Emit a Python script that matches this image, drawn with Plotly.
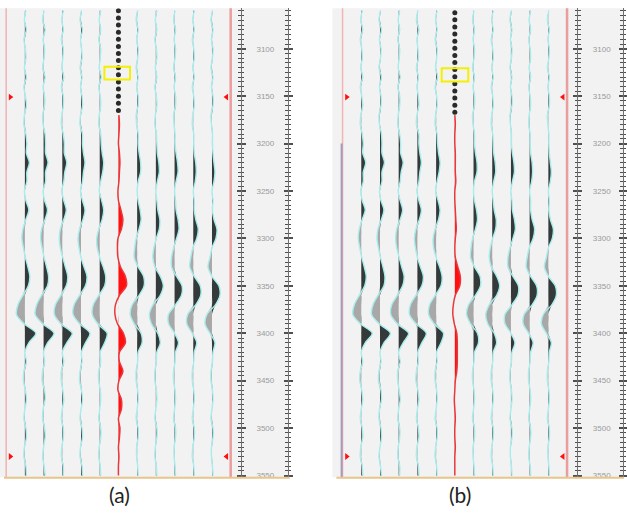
import plotly.graph_objects as go

# ---------------- data ----------------
depth = list(range(3060, 3551, 10))          # sample depths of ordinary traces
red_depth = list(range(3170, 3551, 10))      # sample depths of the highlighted trace
dot_depth_a = [3060, 3067.5, 3075, 3082.5, 3090, 3097.5, 3105, 3112.5, 3120, 3127.5,
               3135, 3142.5, 3150, 3157.5, 3165]
dot_depth_b = [3062, 3069.5, 3077, 3084.5, 3092, 3099.5, 3107, 3114.5, 3122, 3129.5,
               3137, 3144.5, 3152, 3159.5, 3167]
depth_ticks = [3100, 3150, 3200, 3250, 3300, 3350, 3400, 3450, 3500, 3550]
panel_labels = ["(a)", "(b)"]
marker_depths = [3151, 3530]
box_a = [3119, 3132.5]
box_b = [3120.5, 3134.5]

T1 = [1, -0.5, 1.5, -1, 0.5, 1, -0.5, 1.5, -1, 0.5, 1.5, -0.5, -1, 1,
      2, 1.5, 4.5, 2, 2, -0.5, 1, 4, 1, -2, -3, -1.5, 0.5, 3, 5, 3.5, -2, -7, -8.5, -1, 11, 4, 0,
      1.5, -1, -1.5, 0.5, 1.5, 0, -1, 1, 1.5, -0.5, -1, 1, 1.5]
T2 = [0.5, -1, 1.5, -0.5, 1, 0.5, -1, 1.5, -0.5, 1, 1, -1, -0.5, 1.5,
      2, 2, 4.5, 2, 2, -0.5, 1, 4, 1.5, -2, -3, -1.5, 0.5, 3, 5, 4, -2, -7, -8.5, -1, 10.5, 4, 0,
      1, -1, -1.5, 1, 1.5, -0.5, -1, 1, 1.5, 0, -1, 0.5, 1.5]
T3 = [1, -0.5, 1, -1, 1, 0.5, -0.5, 1.5, -1, 1, 1, -0.5, -1, 1,
      2, 2, 4.5, 2.5, 1.5, -0.5, 1.5, 4, 1.5, -2, -3, -2, 0.5, 3, 5.5, 4, -1.5, -7, -8, -1.5, 10, 4.5, 0,
      1.5, -1, -1, 0.5, 1.5, 0, -1, 1, 1, -0.5, -1, 1, 1]
T4 = [0.5, -1, 1.5, -0.5, 0.5, 1, -1, 1, -0.5, 1, 1.5, -0.5, -1, 1.5,
      1.5, 2.5, 4, 2.5, 1.5, -0.5, 1.5, 4, 2, -1.5, -3, -2, 0, 3, 6, 4.5, -1.5, -7, -8, -1.5, 9, 4.5, 0.5,
      1, -1, -1.5, 0.5, 1.5, 0, -1, 1, 1.5, -0.5, -1, 1, 1.5]
T5 = [1, -0.5, 1, -1, 1, 0.5, -0.5, 1.5, -1, 0.5, 1, -0.5, -1, 1,
      1.5, 2.5, 4, 3, 1, -0.5, 2, 4, 2.5, -1, -3, -2.5, 0, 3.5, 6, 5, -1, -6.5, -7.5, -2, 7.5, 5, 0.5,
      1, -1, -1, 0.5, 1, 0, -1, 1, 1, -0.5, -1, 0.5, 1]
T7 = [0.5, -1, 1, -0.5, 1, 0.5, -1, 1, -0.5, 1, 1, -1, -0.5, 1,
      1, 2, 3.5, 3.5, 1, 0, 1, 3, 4, 2, -1, -2.5, -3, 1, 6.5, 7, 2, -5, -7, -3, 4, 5, 1,
      0.5, -1, -1, 0.5, 1, 0, -1, 1, 1, -0.5, -0.5, 0.5, 1]
T8 = [1, -0.5, 1, -1, 0.5, 1, -0.5, 1, -1, 0.5, 1, -0.5, -1, 0.5,
      1, 1.5, 3, 3.5, 1.5, 0, 1, 2, 4, 3.5, 0.5, -2, -3, -1, 4.5, 7.5, 4.5, -3, -6.5, -4.5, 2, 4.5, 1,
      0.5, -1, -1, 0.5, 1, 0, -1, 1, 1, -0.5, -1, 0.5, 1]
T9 = [0.5, -1, 1, -0.5, 1, 0.5, -1, 1, -0.5, 1, 1, -1, -0.5, 0.5,
      0.5, 1.5, 3, 3.5, 1.5, 0, 1, 1.5, 3.5, 4.5, 2, -1, -3, -3, 2, 7.5, 7, 1, -6, -6, 0, 4, 1,
      0.5, -1, -1, 0.5, 1, 0, -1, 1, 1, -0.5, -0.5, 0.5, 1]
T10 = [1, -0.5, 1, -1, 0.5, 1, -0.5, 1, -1, 0.5, 1, -0.5, -1, 0.5,
       0.5, 1, 2.5, 3, 2, 0, 1, 1, 2.5, 5, 3.5, -0.5, -2.5, -3.5, 1, 7, 7.5, 2.5, -5.5, -6.5, -1, 3.5, 1,
       0.5, -1, -1, 0.5, 1, 0, -1, 1, 1, -0.5, -1, 0.5, 1]
T11 = [0.5, -1, 1, -0.5, 1, 0.5, -1, 1, -0.5, 1, 1, -1, -0.5, 0.5,
       0.5, 1, 2, 3, 2, 0, 1, 0.5, 2, 5, 4, 0, -2, -4, 0, 7, 8, 3.5, -5, -7, -2, 3, 1,
       0.5, -1, -1, 0.5, 1, 0, -1, 1, 1, -0.5, -0.5, 0.5, 1]
ordinary = {1: T1, 2: T2, 3: T3, 4: T4, 5: T5, 7: T7, 8: T8, 9: T9, 10: T10, 11: T11}
special_index = 6

red_a = [0.5, 1, 0.5, 0, 1, 1.5, 1, 0.5, -0.5, 0, 2.5, 4.5, 3, -0.5, -1, -0.5, 2, 7, 8, 1,
         -3, -3.5, -1, 5, 7, 1, 1, 4.5, 0.5, -0.5, 3, 3, 0, 1.5, 1, 0, 0.5, 0, 0]
red_b = [0, 0.5, 0, 0, 0.5, 0.5, 0.5, 1, 0, 0, 0.5, 1, 1.5, 0.5, 0, 0.5, 3, 5.5, 5, 0.5,
         -1.5, -2, -0.5, 2, 2.5, 2.5, 2.5, 2, 0.5, 0, -0.5, 0, 0.5, 0, 0, 0.5, 0, 0, 0]

# ---------------- layout geometry ----------------
W, H = 627, 520
GAIN = 1 / 18.8            # amplitude units -> trace spacing
YTOP, YBOT = 8.3, 480      # pixel rows of plot top / bottom
DRANGE = [3551.8, 3057.3]
XRANGE = [-0.33, 12.543]
ydom = [1 - YBOT / H, 1 - YTOP / H]

def px(v):
    return v / W

def py(v):
    return 1 - v / H

fig = go.Figure()

def add_wiggle(xa, ya, k, amps, dep, pos_color, neg_color, line_color, lw):
    common = dict(xaxis=xa, yaxis=ya, mode="lines", hoverinfo="skip", showlegend=False)
    base = [k] * len(dep)
    pos = [k + GAIN * max(a, 0) for a in amps]
    neg = [k + GAIN * min(a, 0) for a in amps]
    full = [k + GAIN * a for a in amps]
    fig.add_trace(go.Scatter(x=base, y=dep, line=dict(width=0), **common))
    fig.add_trace(go.Scatter(x=pos, y=dep, fill="tonextx", fillcolor=pos_color,
                             line=dict(width=0, shape="spline", smoothing=0.9), **common))
    if neg_color:
        fig.add_trace(go.Scatter(x=base, y=dep, line=dict(width=0), **common))
        fig.add_trace(go.Scatter(x=neg, y=dep, fill="tonextx", fillcolor=neg_color,
                                 line=dict(width=0, shape="spline", smoothing=0.9), **common))
    fig.add_trace(go.Scatter(x=full, y=dep, line=dict(color=line_color, width=lw,
                                                       shape="spline", smoothing=0.9), **common))

panels = [("x", "y", red_a, dot_depth_a, box_a), ("x2", "y2", red_b, dot_depth_b, box_b)]
for xa, ya, red, dots, box in panels:
    for k, amps in ordinary.items():
        add_wiggle(xa, ya, k, amps, depth, "#343a3a", "#a8a8a8", "#a8ecec", 1.4)
    add_wiggle(xa, ya, special_index, red, red_depth, "#ff1010", None, "#e8383c", 1.5)
    fig.add_trace(go.Scatter(x=[special_index] * len(dots), y=dots, xaxis=xa, yaxis=ya,
                             mode="markers", hoverinfo="skip", showlegend=False,
                             marker=dict(symbol="circle", size=5, color="#2a2a2a")))
    # red markers on the frame lines
    fig.add_trace(go.Scatter(x=[0.22, 0.22], y=marker_depths, xaxis=xa, yaxis=ya, mode="markers",
                             hoverinfo="skip", showlegend=False,
                             marker=dict(symbol="triangle-right", size=6, color="#ff1010")))
    fig.add_trace(go.Scatter(x=[11.78, 11.78], y=marker_depths, xaxis=xa, yaxis=ya, mode="markers",
                             hoverinfo="skip", showlegend=False,
                             marker=dict(symbol="triangle-left", size=6, color="#ff1010")))

shapes = []
# backgrounds
shapes.append(dict(type="rect", xref="paper", yref="paper", x0=0, x1=px(290), y0=py(YBOT), y1=py(YTOP),
                   fillcolor="#f2f2f2", line=dict(width=0), layer="below"))
shapes.append(dict(type="rect", xref="paper", yref="paper", x0=px(334), x1=1, y0=py(YBOT), y1=py(YTOP),
                   fillcolor="#f2f2f2", line=dict(width=0), layer="below"))
# frame lines
for xa, ya in [("x", "y"), ("x2", "y2")]:
    shapes.append(dict(type="line", xref=xa, yref=ya + " domain", x0=0, x1=0, y0=0, y1=1,
                       line=dict(color="#f0b4b4", width=1.5), layer="below"))
    shapes.append(dict(type="line", xref=xa, yref=ya + " domain", x0=12, x1=12, y0=0, y1=1,
                       line=dict(color="#eb9c9c", width=2.5), layer="below"))
# darker lower-left edge of panel (b)
shapes.append(dict(type="line", xref="x2", yref="y2", x0=-0.05, x1=-0.05, y0=3200, y1=DRANGE[0],
                   line=dict(color="#a49ab8", width=2), layer="below"))
# yellow boxes
shapes.append(dict(type="rect", xref="x", yref="y", x0=5.25, x1=6.62, y0=box_a[0], y1=box_a[1],
                   line=dict(color="#f4f000", width=2)))
shapes.append(dict(type="rect", xref="x2", yref="y2", x0=5.3, x1=6.72, y0=box_b[0], y1=box_b[1],
                   line=dict(color="#f4f000", width=2)))
# bottom orange lines
shapes.append(dict(type="line", xref="paper", yref="paper", x0=px(4), x1=px(291), y0=py(480.5), y1=py(480.5),
                   line=dict(color="#e9c48c", width=2)))
shapes.append(dict(type="line", xref="paper", yref="paper", x0=px(338), x1=1, y0=py(480.5), y1=py(480.5),
                   line=dict(color="#e9c48c", width=2)))

hidden_x = dict(range=XRANGE, visible=False, fixedrange=True)
hidden_y = dict(range=DRANGE, domain=ydom, visible=False, fixedrange=True)

def depth_axis(over, pos, side, labels):
    return dict(overlaying=over, anchor="free", position=pos, side=side, range=DRANGE,
                tickmode="linear", tick0=3050, dtick=50, ticks="outside", ticklen=4,
                tickwidth=1.5, tickcolor="#505050", showline=True, linecolor="#707070",
                linewidth=1, showgrid=False, zeroline=False, showticklabels=labels,
                tickfont=dict(size=8, color="#9a9a9a", family="Liberation Sans"),
                ticklabelstandoff=9,
                minor=dict(tickmode="linear", tick0=3050, dtick=5, ticks="outside",
                           ticklen=2.5, tickwidth=1.2, tickcolor="#505050"))

fig.update_layout(
    width=W, height=H, margin=dict(l=0, r=0, t=0, b=0),
    paper_bgcolor="white", plot_bgcolor="rgba(0,0,0,0)", showlegend=False,
    xaxis=dict(domain=[0, px(242)], anchor="y", **hidden_x),
    yaxis=dict(anchor="x", **hidden_y),
    xaxis2=dict(domain=[px(338), px(580)], anchor="y2", **hidden_x),
    yaxis2=dict(anchor="x2", **hidden_y),
    yaxis3=depth_axis("y", px(242), "right", True),
    yaxis4=depth_axis("y", px(242), "left", False),
    yaxis5=depth_axis("y", px(289), "left", False),
    yaxis6=depth_axis("y", px(289), "right", False),
    yaxis7=depth_axis("y2", px(580), "right", True),
    yaxis8=depth_axis("y2", px(580), "left", False),
    yaxis9=depth_axis("y2", px(625.5), "left", False),
    yaxis10=depth_axis("y2", px(625.5), "right", False),
    shapes=shapes,
    annotations=[
        dict(text=panel_labels[0], xref="paper", yref="paper", x=px(120), y=py(497),
             xanchor="center", yanchor="middle",
             showarrow=False, font=dict(size=21, family="Lato", color="#222222")),
        dict(text=panel_labels[1], xref="paper", yref="paper", x=px(462), y=py(497),
             xanchor="center", yanchor="middle",
             showarrow=False, font=dict(size=21, family="Lato", color="#222222")),
    ],
)

# invisible traces so the overlaying depth axes are drawn
for i in range(3, 11):
    fig.add_trace(go.Scatter(x=[None], y=[None], yaxis=f"y{i}", xaxis="x" if i < 7 else "x2",
                             showlegend=False, hoverinfo="skip"))

fig.write_html("out.html")
